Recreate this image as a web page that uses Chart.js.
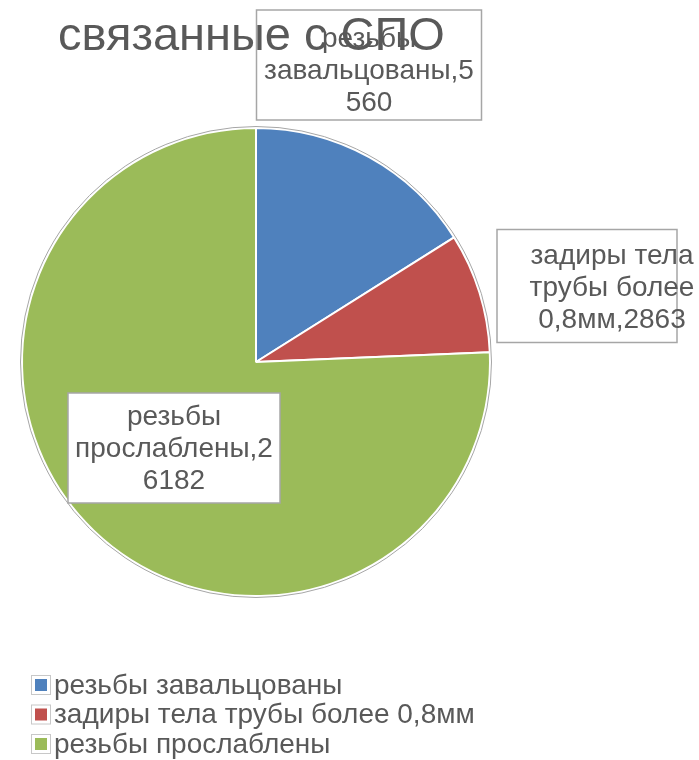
<!DOCTYPE html>
<html>
<head>
<meta charset="utf-8">
<script src="https://cdn.jsdelivr.net/npm/chart.js@4/dist/chart.umd.min.js"></script>
<style>
	html, body { margin: 0; padding: 0; background: #fff; }
	#wrap { width: 699px; height: 760px; }
</style>
</head>
<body>
<div id="wrap"><canvas id="chart" width="699" height="760"></canvas></div>
<script>
( function () {
	'use strict';

	var categories = [ 'резьбы завальцованы', 'задиры тела трубы более 0,8мм', 'резьбы прослаблены' ];
	var values = [ 5560, 2863, 26182 ];
	var colors = [ '#4F81BD', '#C0504D', '#9BBB59' ];
	var titleText = 'связанные с СПО';

	// data label boxes: lines of text and box placement relative to pie center
	var labelLines = [
		[ 'резьбы', 'завальцованы,5', '560' ],
		[ 'задиры тела', 'трубы более', '0,8мм,2863' ],
		[ 'резьбы', 'прослаблены,2', '6182' ]
	];
	var labelBoxes = [
		{ dx: 113, dy: -297, w: 225, h: 110, tx: 0, ty: 6 },
		{ dx: 331, dy: -76, w: 180, h: 113, tx: 25, ty: 2 },
		{ dx: -82, dy: 86, w: 212, h: 110, tx: 0, ty: 1 }
	];

	var FONT = '"Liberation Sans", Arial, sans-serif';
	var TEXT = '#595959';

	var overlay = {
		id: 'overlay',
		afterDatasetsDraw: function ( chart ) {
			var ctx = chart.ctx;
			var arc = chart.getDatasetMeta( 0 ).data[0];
			var cx = arc.x, cy = arc.y, r = arc.outerRadius;

			ctx.save();
			ctx.strokeStyle = '#a6a6a6';
			ctx.lineWidth = 1;
			ctx.beginPath();
			ctx.arc( cx, cy, r + 1.5, 0, Math.PI * 2 );
			ctx.stroke();

			// label boxes
			labelBoxes.forEach( function ( b ) {
				var x = cx + b.dx - b.w / 2, y = cy + b.dy - b.h / 2;
				ctx.fillStyle = '#fff';
				ctx.fillRect( x, y, b.w, b.h );
				ctx.strokeStyle = '#a6a6a6';
				ctx.lineWidth = 1.5;
				ctx.strokeRect( x, y, b.w, b.h );
			} );

			// title (drawn over the first box)
			ctx.fillStyle = TEXT;
			ctx.font = '47px ' + FONT;
			ctx.textAlign = 'left';
			ctx.textBaseline = 'alphabetic';
			ctx.fillText( titleText, 58, 50 );

			ctx.font = '28px ' + FONT;
			ctx.textAlign = 'center';
			ctx.textBaseline = 'middle';
			labelBoxes.forEach( function ( b, i ) {
				var lines = labelLines[i];
				var tx = cx + b.dx + b.tx;
				var ty = cy + b.dy + b.ty - ( lines.length - 1 ) * 32 / 2;
				lines.forEach( function ( l, j ) {
					ctx.fillText( l, tx, ty + j * 32 );
				} );
			} );

			// legend
			ctx.font = '28px ' + FONT;
			ctx.textAlign = 'left';
			categories.forEach( function ( c, i ) {
				var y = 685 + i * 29.5;
				ctx.fillStyle = '#fff';
				ctx.fillRect( 31, y - 10, 20, 20 );
				ctx.strokeStyle = '#c8c8c8';
				ctx.lineWidth = 1;
				ctx.strokeRect( 31.5, y - 9.5, 19, 19 );
				ctx.fillStyle = colors[i];
				ctx.fillRect( 35, y - 6, 12, 12 );
				ctx.fillStyle = TEXT;
				ctx.fillText( c, 54, y + 1 );
			} );
			ctx.restore();
		}
	};

	new Chart( document.getElementById( 'chart' ), {
		type: 'pie',
		data: {
			labels: categories,
			datasets: [ {
				data: values,
				backgroundColor: colors,
				borderColor: '#ffffff',
				borderWidth: 2
			} ]
		},
		options: {
			responsive: false,
			animation: false,
			layout: { padding: { left: 21, top: 127, right: 208, bottom: 163 } },
			plugins: {
				legend: { display: false },
				title: { display: false },
				tooltip: { enabled: false }
			}
		},
		plugins: [ overlay ]
	} );
}() );
</script>
</body>
</html>
